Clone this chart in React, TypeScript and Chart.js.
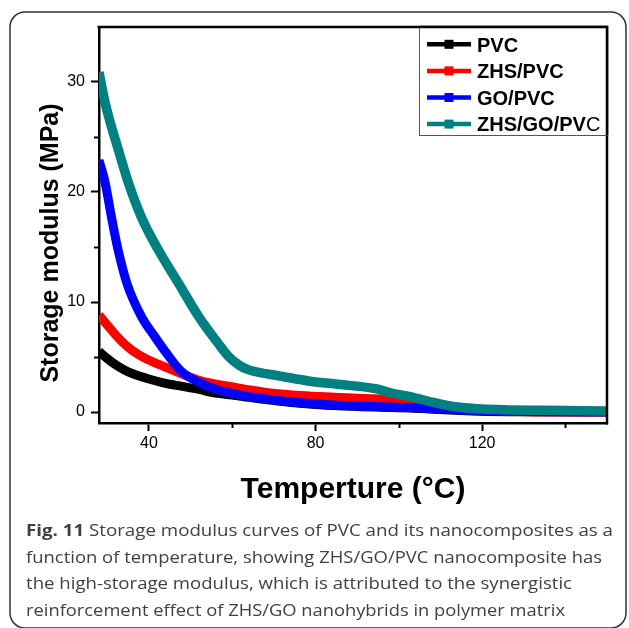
import React, { useEffect, useRef } from "react";
import { Chart, registerables } from "chart.js";

Chart.register(...registerables);

// ---- data ----
const pvcT = [28, 30, 32, 34, 36, 40, 44, 48, 52, 56, 60, 64, 71, 81, 90, 102.7, 110, 120, 130, 150];
const pvcV = [5.5, 4.85, 4.3, 3.85, 3.5, 3.0, 2.6, 2.33, 2.05, 1.72, 1.55, 1.33, 1.0, 0.66, 0.5, 0.36, 0.22, 0.07, 0.02, 0.0];

const zhsPvcT = [28, 30, 31.8, 33.8, 35.8, 37.8, 39.8, 43.8, 48, 51.8, 55.8, 59.8, 64.3, 71, 81, 90, 100, 106, 112, 118, 125, 135, 150];
const zhsPvcV = [8.8, 7.9, 7.1, 6.3, 5.65, 5.15, 4.75, 4.1, 3.45, 2.9, 2.55, 2.3, 2.0, 1.65, 1.4, 1.25, 1.1, 0.9, 0.55, 0.25, 0.1, 0.0, 0.0];

const goPvcT = [28, 29.5, 31, 32.6, 34.7, 38.2, 41.4, 44, 47.8, 52, 55.8, 60, 64, 71, 81, 90, 102.7, 110, 120, 130, 150];
const goPvcV = [22.9, 20.8, 17.7, 14.7, 11.7, 8.67, 6.85, 5.45, 3.68, 2.7, 2.1, 1.7, 1.4, 1.05, 0.7, 0.55, 0.4, 0.25, 0.1, 0.05, 0.0];

const zhsGoPvcT = [28, 29.3, 30.5, 32.6, 35.1, 38.2, 42.3, 47.1, 51.9, 56.6, 59, 61.5, 63.8, 67, 71, 78.7, 86, 94.7, 98, 102.7, 108, 113, 118.6, 125, 135, 150];
const zhsGoPvcV = [30.9, 28.4, 26.6, 23.9, 20.8, 17.7, 14.7, 11.7, 8.7, 6.25, 5.1, 4.3, 3.85, 3.55, 3.3, 2.8, 2.5, 2.1, 1.75, 1.4, 0.9, 0.5, 0.3, 0.2, 0.15, 0.1];

const seriesNames = ["PVC", "ZHS/PVC", "GO/PVC", "ZHS/GO/PVC"];
const seriesColors = ["#000000", "#ff0000", "#0000ff", "#008080"];

const xMajorTicks = [40, 80, 120];
const xMinorTicks = [60, 100, 140];
const yMajorTicks = [0, 10, 20, 30];
const yMinorTicks = [5, 15, 25];

const xTitle = "Temperture (°C)";
const yTitle = "Storage modulus (MPa)";
const captionLead = "Fig. 11";
const captionLines = [
  " Storage modulus curves of PVC and its nanocomposites as a",
  "function of temperature, showing ZHS/GO/PVC nanocomposite has",
  "the high-storage modulus, which is attributed to the synergistic",
  "reinforcement effect of ZHS/GO nanohybrids in polymer matrix",
];
const captionWidths = [587, 576, 546, 539];

const toPoints = (t: number[], v: number[]) => t.map((x, i) => ({ x, y: v[i] }));

const FONT = '"Liberation Sans", Arial, sans-serif';

const decor = {
  id: "decor",
  afterDraw(chart: any) {
    const ctx: CanvasRenderingContext2D = chart.ctx;
    const a = chart.chartArea;
    const xs = chart.scales.x;
    const ys = chart.scales.y;
    ctx.save();

    // frame top & right
    ctx.strokeStyle = "#000";
    ctx.lineWidth = 2.5;
    ctx.beginPath();
    ctx.moveTo(a.left - 1.5, a.top);
    ctx.lineTo(a.right, a.top);
    ctx.lineTo(a.right, a.bottom + 1.5);
    ctx.stroke();

    // minor ticks
    ctx.lineWidth = 2;
    xMinorTicks.forEach((v) => {
      const px = Math.round(xs.getPixelForValue(v)) + 0.5;
      ctx.beginPath();
      ctx.moveTo(px, a.bottom);
      ctx.lineTo(px, a.bottom + 5);
      ctx.stroke();
    });
    yMinorTicks.forEach((v) => {
      const py = Math.round(ys.getPixelForValue(v)) + 0.5;
      ctx.beginPath();
      ctx.moveTo(a.left, py);
      ctx.lineTo(a.left - 5, py);
      ctx.stroke();
    });

    // legend
    const lx = 419.5, ly = 27, lw = a.right - 419.5, lh = 108;
    ctx.fillStyle = "#fff";
    ctx.fillRect(lx, ly, lw, lh);
    ctx.strokeStyle = "#555";
    ctx.lineWidth = 1;
    ctx.strokeRect(lx, ly + 0.5, lw, lh);
    ctx.lineWidth = 2.5;
    ctx.strokeStyle = "#000";
    ctx.beginPath();
    ctx.moveTo(lx, a.top);
    ctx.lineTo(a.right, a.top);
    ctx.lineTo(a.right, ly + lh);
    ctx.stroke();

    seriesNames.forEach((name, i) => {
      const cy = 44.3 + i * 26.6;
      ctx.strokeStyle = seriesColors[i];
      ctx.lineWidth = 4.5;
      ctx.beginPath();
      ctx.moveTo(427, cy);
      ctx.lineTo(471, cy);
      ctx.stroke();
      ctx.fillStyle = seriesColors[i];
      ctx.fillRect(444.5, cy - 4.5, 9, 9);
      ctx.fillStyle = "#000";
      ctx.textAlign = "left";
      ctx.textBaseline = "alphabetic";
      if (i === 3) {
        const boldPart = name.slice(0, -1);
        ctx.font = `bold 20px ${FONT}`;
        ctx.fillText(boldPart, 477, cy + 7.3);
        const w = ctx.measureText(boldPart).width;
        ctx.font = `20px ${FONT}`;
        ctx.fillText(name.slice(-1), 477 + w, cy + 7.3);
      } else {
        ctx.font = `bold 20px ${FONT}`;
        ctx.fillText(name, 477, cy + 7.3);
      }
    });

    // axis titles
    ctx.fillStyle = "#000";
    ctx.font = `bold 30px ${FONT}`;
    ctx.textAlign = "center";
    ctx.textBaseline = "alphabetic";
    ctx.fillText(xTitle, (a.left + a.right) / 2, 498);

    ctx.save();
    ctx.translate(57.5, 243);
    ctx.rotate(-Math.PI / 2);
    ctx.font = `bold 25px ${FONT}`;
    ctx.fillText(yTitle, 0, 0);
    ctx.restore();

    // caption
    ctx.fillStyle = "#404040";
    ctx.textAlign = "left";
    const capFont = '"Open Sans", "Noto Sans", sans-serif';
    captionLines.forEach((line, i) => {
      const y = 536 + i * 26.6;
      let lead = "";
      if (i === 0) lead = captionLead;
      ctx.font = `bold 16.5px ${capFont}`;
      const lw0 = lead ? ctx.measureText(lead).width : 0;
      ctx.font = `16.5px ${capFont}`;
      const lw1 = ctx.measureText(line).width;
      const sx = captionWidths[i] / (lw0 + lw1);
      ctx.save();
      ctx.translate(26, y);
      ctx.scale(sx, 1);
      if (lead) {
        ctx.font = `bold 16.5px ${capFont}`;
        ctx.fillText(lead, 0, 0);
      }
      ctx.font = `16.5px ${capFont}`;
      ctx.fillText(line, lw0, 0);
      ctx.restore();
    });

    // outer rounded border
    ctx.strokeStyle = "#333";
    ctx.lineWidth = 1.5;
    const bx = 10, by = 12, bw = 616, bh = 616, r = 15;
    ctx.beginPath();
    ctx.moveTo(bx + r, by);
    ctx.lineTo(bx + bw - r, by);
    ctx.arcTo(bx + bw, by, bx + bw, by + r, r);
    ctx.lineTo(bx + bw, by + bh - r);
    ctx.arcTo(bx + bw, by + bh, bx + bw - r, by + bh, r);
    ctx.lineTo(bx + r, by + bh);
    ctx.arcTo(bx, by + bh, bx, by + bh - r, r);
    ctx.lineTo(bx, by + r);
    ctx.arcTo(bx, by, bx + r, by, r);
    ctx.stroke();

    ctx.restore();
  },
};

export default function App() {
  const ref = useRef<HTMLCanvasElement>(null);
  useEffect(() => {
    document.body.style.margin = "0";
    const seriesData = [
      toPoints(pvcT, pvcV),
      toPoints(zhsPvcT, zhsPvcV),
      toPoints(goPvcT, goPvcV),
      toPoints(zhsGoPvcT, zhsGoPvcV),
    ];
    const chart = new Chart(ref.current as HTMLCanvasElement, {
      type: "line",
      data: {
        datasets: seriesNames.map((name, i) => ({
          label: name,
          data: seriesData[i],
          borderColor: seriesColors[i],
          backgroundColor: seriesColors[i],
          borderWidth: i === 3 ? 9.5 : 9,
          pointRadius: 0,
          fill: false,
          cubicInterpolationMode: "monotone" as const,
          order: 4 - i,
        })),
      },
      options: {
        responsive: false,
        animation: false,
        events: [],
        layout: { padding: { top: 27, right: 22, left: 0, bottom: 0 } },
        plugins: { legend: { display: false }, tooltip: { enabled: false } },
        scales: {
          x: {
            type: "linear",
            min: 28,
            max: 150,
            afterFit: (s: any) => {
              s.height = 205;
            },
            afterBuildTicks: (s: any) => {
              s.ticks = xMajorTicks.map((value) => ({ value }));
            },
            grid: { drawOnChartArea: false, drawTicks: true, tickLength: 8, tickWidth: 2, tickColor: "#000" },
            border: { display: true, width: 2.5, color: "#000" },
            ticks: { color: "#000", padding: 3, maxRotation: 0, font: { family: FONT, size: 16 } },
          },
          y: {
            type: "linear",
            min: -1,
            max: 35,
            afterFit: (s: any) => {
              s.width = 99;
            },
            afterBuildTicks: (s: any) => {
              s.ticks = yMajorTicks.map((value) => ({ value }));
            },
            grid: { drawOnChartArea: false, drawTicks: true, tickLength: 8, tickWidth: 2, tickColor: "#000" },
            border: { display: true, width: 2.5, color: "#000" },
            ticks: { color: "#000", padding: 6, font: { family: FONT, size: 16 } },
          },
        },
      },
      plugins: [decor],
    } as any);
    return () => chart.destroy();
  }, []);
  return (
    <canvas
      ref={ref}
      width={629}
      height={628}
      style={{ display: "block", width: 629, height: 628 }}
    />
  );
}
